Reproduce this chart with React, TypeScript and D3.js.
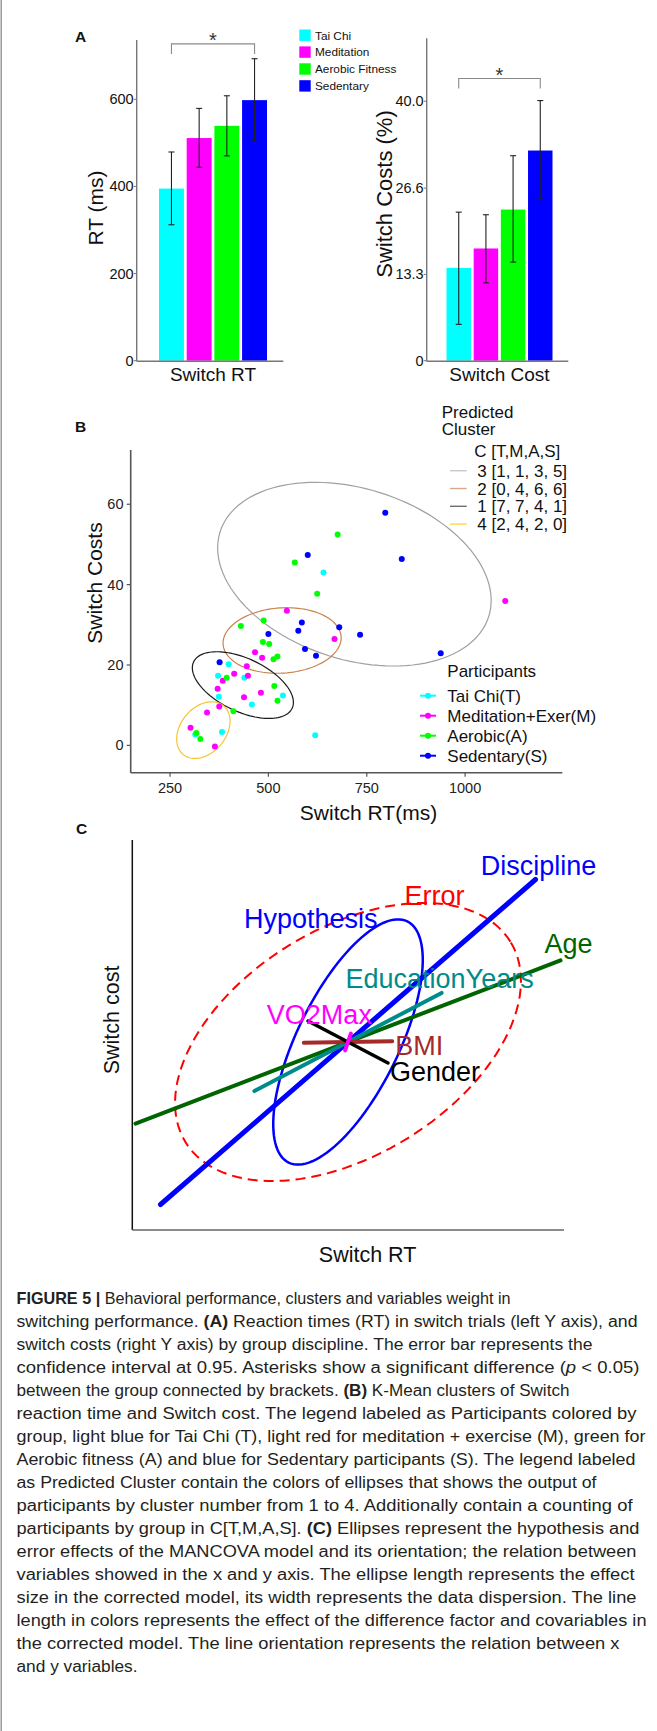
import * as d3 from "d3";

// ---------- panel A data ----------
const groups = ["Tai Chi", "Meditation", "Aerobic Fitness", "Sedentary"];
const groupColors = ["#00ffff", "#ff00ff", "#00ff00", "#0000ff"];
const rtMean = [395, 511, 539, 598];
const rtLow = [312, 444, 470, 504];
const rtHigh = [479, 579, 608, 693];
const rtTicks = [0, 200, 400, 600];
const costMean = [14.3, 17.3, 23.3, 32.4];
const costLow = [5.6, 12.0, 15.2, 24.9];
const costHigh = [22.9, 22.5, 31.6, 40.1];
const costTicks = [0, 13.3, 26.6, 40.0];
const costTickLabels = ["0", "13.3", "26.6", "40.0"];
const bracketRT = 727;
const bracketCost = 43.5;

// ---------- panel B data: [switch RT (ms), switch cost] ----------
const taiChiPts = [
  [399, 20.2], [372, 17.3], [439, 16.8], [374, 12.1], [537, 12.4],
  [458, 10.2], [314, 2.7], [382, 3.3], [619, 2.5], [640, 43.0],
];
const meditationPts = [
  [547, 33.5], [466, 23.2], [484, 21.8], [445, 19.7], [384, 16.1],
  [413, 17.8], [448, 17.3], [371, 14.1], [438, 12.0], [481, 13.1],
  [375, 9.7], [344, 8.2], [302, 4.4], [364, -0.3], [668, 26.5], [1102, 35.9],
];
const aerobicPts = [
  [567, 45.5], [488, 31.1], [430, 29.7], [486, 25.7], [502, 25.2],
  [513, 21.4], [523, 22.1], [394, 16.8], [515, 14.8], [523, 11.1],
  [411, 8.5], [317, 3.1], [327, 1.6], [676, 52.5], [624, 37.7],
];
const sedentaryPts = [
  [797, 57.9], [600, 47.4], [839, 46.4], [585, 30.6], [576, 28.5],
  [680, 29.4], [733, 27.5], [593, 24.0], [621, 22.3], [938, 22.9],
  [500, 27.7], [376, 20.7],
];
const participantLabels = ["Tai Chi(T)", "Meditation+Exer(M)", "Aerobic(A)", "Sedentary(S)"];
const xTicksB = [250, 500, 750, 1000];
const yTicksB = [0, 20, 40, 60];

// cluster ellipses: centre and two semi-axis vectors, in data units
const clusterLabels = ["3 [1, 1, 3, 5]", "2 [0, 4, 6, 6]", "1 [7, 7, 4, 1]", "4 [2, 4, 2, 0]"];
const clusterCentres = [[718.6, 42.6], [534.8, 26.1], [435.1, 15.0], [334.7, 3.8]];
const clusterAxisU = [[341.5, -10.5], [150.0, 0.95], [125.2, -5.77], [51.4, 6.05]];
const clusterAxisV = [[64.8, 20.3], [-5.3, 8.1], [28.7, 5.97], [-44.3, 3.62]];
const clusterColors = ["#a0a0a0", "#c9834f", "#1a1a1a", "#f7c42f"];
const clusterKeyColors = ["#c8c8c8", "#d9a98a", "#6e6e6e", "#ffd54f"];

// ---------- panel C data (arbitrary effect units) ----------
const effectNames = ["Age", "Discipline", "EducationYears", "BMI", "Gender", "VO2Max"];
const effectEnds = [[212.5, 81.6], [187.5, 162.5], [93.6, 49.1], [44.2, 0.8], [40, -21], [2.9, 8.4]];
const effectColors = ["#006400", "#0000ff", "#008b8b", "#a52a2a", "#000000", "#ff00ff"];
const ellipseNames = ["Error", "Hypothesis"];
const ellipseAxes = [[190.9, 113.2], [134.4, 50.7]];
const ellipseAngles = [31.7, 63.8];
const ellipseColors = ["#ff0000", "#0000ff"];

// ---------- caption ----------
const captionLines = [
  "**FIGURE 5 |** Behavioral performance, clusters and variables weight in",
  "switching performance. **(A)** Reaction times (RT) in switch trials (left Y axis), and",
  "switch costs (right Y axis) by group discipline. The error bar represents the",
  "confidence interval at 0.95. Asterisks show a significant difference (_p_ < 0.05)",
  "between the group connected by brackets. **(B)** K-Mean clusters of Switch",
  "reaction time and Switch cost. The legend labeled as Participants colored by",
  "group, light blue for Tai Chi (T), light red for meditation + exercise (M), green for",
  "Aerobic fitness (A) and blue for Sedentary participants (S). The legend labeled",
  "as Predicted Cluster contain the colors of ellipses that shows the output of",
  "participants by cluster number from 1 to 4. Additionally contain a counting of",
  "participants by group in C[T,M,A,S]. **(C)** Ellipses represent the hypothesis and",
  "error effects of the MANCOVA model and its orientation; the relation between",
  "variables showed in the x and y axis. The ellipse length represents the effect",
  "size in the corrected model, its width represents the data dispersion. The line",
  "length in colors represents the effect of the difference factor and covariables in",
  "the corrected model. The line orientation represents the relation between x",
  "and y variables.",
];
// rendered width of each caption line (layout); the last line keeps its natural width
const captionWidths = [494, 621, 576, 623, 553, 620, 629, 619, 580, 616, 623, 620, 618, 620, 630, 603, 0];

const FONT = "'Liberation Sans', Arial, Helvetica, sans-serif";

function BarPanel({ xs, ys, mean, low, high, ticks, tickLabels, bracket, axisX, axisEnd, yTitle, yTitleX, yTitleY, yTitleSize, xTitle }: any) {
  const bw = xs.bandwidth();
  const y0 = ys(0);
  const first = xs(groups[0]) + bw / 2;
  const last = xs(groups[3]) + bw / 2;
  const by = ys(bracket);
  return (
    <g>
      {groups.map((g, i) => (
        <rect key={g} x={xs(g)} y={ys(mean[i])} width={bw} height={y0 - ys(mean[i])} fill={groupColors[i]} />
      ))}
      {groups.map((g, i) => {
        const cx = xs(g) + bw / 2;
        return (
          <g key={g} stroke="#222" strokeWidth={1.1}>
            <line x1={cx} x2={cx} y1={ys(low[i])} y2={ys(high[i])} />
            <line x1={cx - 3} x2={cx + 3} y1={ys(low[i])} y2={ys(low[i])} />
            <line x1={cx - 3} x2={cx + 3} y1={ys(high[i])} y2={ys(high[i])} />
          </g>
        );
      })}
      <path d={`M${first},${by + 10}V${by}H${last}V${by + 10}`} fill="none" stroke="#8a8a8a" strokeWidth={1.1} />
      <text x={(first + last) / 2} y={by + 3} textAnchor="middle" fontSize={20} fill="#333">*</text>
      <line x1={axisX} x2={axisX} y1={ys.range()[1]} y2={y0 + 0.5} stroke="#777" strokeWidth={1.4} />
      <line x1={axisX} x2={axisEnd} y1={y0 + 0.5} y2={y0 + 0.5} stroke="#777" strokeWidth={1.4} />
      {ticks.map((t: number, i: number) => (
        <g key={t}>
          <line x1={axisX - 3} x2={axisX} y1={ys(t)} y2={ys(t)} stroke="#777" strokeWidth={1} />
          <text x={axisX - 3} y={ys(t) + 5} textAnchor="end" fontSize={14.5} fill="#111">{tickLabels[i]}</text>
        </g>
      ))}
      <text transform={`translate(${yTitleX},${yTitleY}) rotate(-90)`} textAnchor="middle" fontSize={yTitleSize} fill="#111">{yTitle}</text>
      <text x={(first + last) / 2} y={381} textAnchor="middle" fontSize={19} fill="#111">{xTitle}</text>
    </g>
  );
}

function ellipsePath(cx: number, cy: number, u: number[], v: number[], xs: any, ys: any) {
  const ts = d3.range(0, 121).map((i) => (i / 120) * Math.PI * 2);
  const line = d3.line<number>()
    .x((t) => xs(cx + u[0] * Math.cos(t) + v[0] * Math.sin(t)))
    .y((t) => ys(cy + u[1] * Math.cos(t) + v[1] * Math.sin(t)))
    .curve(d3.curveLinearClosed);
  return line(ts) || "";
}

function renderCaption(line: string) {
  const parts = line.split(/(\*\*[^*]+\*\*|_[^_]+_)/).filter((p) => p.length);
  return parts.map((p, i) => {
    if (p.startsWith("**")) return <tspan key={i} fontWeight="bold">{p.slice(2, -2)}</tspan>;
    if (p.startsWith("_")) return <tspan key={i} fontStyle="italic">{p.slice(1, -1)}</tspan>;
    return <tspan key={i}>{p}</tspan>;
  });
}

export default function App() {
  // panel A scales
  const xA1 = d3.scaleBand<string>().domain(groups).range([159, 267]).paddingInner(0.1);
  const yA1 = d3.scaleLinear().domain([0, 736]).range([360.7, 40]);
  const xA2 = d3.scaleBand<string>().domain(groups).range([446.5, 552.5]).paddingInner(0.1);
  const yA2 = d3.scaleLinear().domain([0, 49.7]).range([360.7, 38.3]);

  // panel B scales
  const xB = d3.scaleLinear().domain([150, 1247]).range([130.7, 562.3]);
  const yB = d3.scaleLinear().domain([-6.8, 73.5]).range([772.7, 450]);
  const allPts = [taiChiPts, meditationPts, aerobicPts, sedentaryPts];

  // panel C scales
  const xC = d3.scaleLinear().domain([-216, 216]).range([132, 564]);
  const yC = d3.scaleLinear().domain([-188, 202]).range([1230, 840]);
  const cEll = ellipseNames.map((n, i) => {
    const th = (ellipseAngles[i] * Math.PI) / 180;
    const [a, b] = ellipseAxes[i];
    const u = [a * Math.cos(th), a * Math.sin(th)];
    const v = [-b * Math.sin(th), b * Math.cos(th)];
    // topmost point for label placement
    const ts = d3.range(0, 360).map((k) => (k * Math.PI) / 180);
    const top = d3.greatest(ts, (t) => u[1] * Math.cos(t) + v[1] * Math.sin(t)) as number;
    return {
      d: ellipsePath(0, 0, u, v, xC, yC),
      top: [xC(u[0] * Math.cos(top) + v[0] * Math.sin(top)), yC(u[1] * Math.cos(top) + v[1] * Math.sin(top))],
    };
  });
  const effectWidths: Record<string, number> = { Age: 4, Discipline: 5, EducationYears: 4, BMI: 4, Gender: 3.5, VO2Max: 4 };
  // label anchors relative to the positive end of each line
  const effectLabel: Record<string, [number, number, string]> = {
    Age: [8, -7, "middle"],
    Discipline: [3, -5, "middle"],
    EducationYears: [-2, -5, "middle"],
    BMI: [3, 14, "start"],
    Gender: [2, 18, "start"],
    VO2Max: [21, -10, "end"],
  };

  return (
    <svg width={657} height={1731} style={{ position: "absolute", left: 0, top: 0, display: "block" }} fontFamily={FONT}>
      <rect width={657} height={1731} fill="#fff" />
      <line x1={1.2} x2={1.2} y1={0} y2={1731} stroke="#8a8a8a" strokeWidth={1.3} />

      {/* ---------- Panel A ---------- */}
      <text x={75} y={42} fontSize={15.5} fontWeight="bold" fill="#111">A</text>
      <BarPanel xs={xA1} ys={yA1} mean={rtMean} low={rtLow} high={rtHigh} ticks={rtTicks}
        tickLabels={rtTicks.map(String)} bracket={bracketRT} axisX={136.7} axisEnd={283.3}
        yTitle="RT (ms)" yTitleX={103} yTitleY={208} yTitleSize={21} xTitle="Switch RT" />
      <BarPanel xs={xA2} ys={yA2} mean={costMean} low={costLow} high={costHigh} ticks={costTicks}
        tickLabels={costTickLabels} bracket={bracketCost} axisX={426.7} axisEnd={568.3}
        yTitle="Switch Costs (%)" yTitleX={391.5} yTitleY={194} yTitleSize={22} xTitle="Switch Cost" />
      {groups.map((g, i) => (
        <g key={g}>
          <rect x={299.3} y={29.5 + i * 16.9} width={11.4} height={11.4} fill={groupColors[i]} />
          <text x={315} y={39.5 + i * 16.9} fontSize={11.8} fill="#111">{g}</text>
        </g>
      ))}

      {/* ---------- Panel B ---------- */}
      <text x={75} y={432} fontSize={15.5} fontWeight="bold" fill="#111">B</text>
      {clusterLabels.map((c, i) => (
        <path key={c} d={ellipsePath(clusterCentres[i][0], clusterCentres[i][1], clusterAxisU[i], clusterAxisV[i], xB, yB)}
          fill="none" stroke={clusterColors[i]} strokeWidth={1.2} />
      ))}
      {allPts.map((pts, gi) => (
        <g key={gi} fill={groupColors[gi]}>
          {pts.map((p, j) => (
            <circle key={j} cx={xB(p[0])} cy={yB(p[1])} r={3} />
          ))}
        </g>
      ))}
      <line x1={130.7} x2={130.7} y1={450} y2={772.7} stroke="#555" strokeWidth={1.6} />
      <line x1={130.7} x2={562.3} y1={772.7} y2={772.7} stroke="#555" strokeWidth={1.6} />
      {yTicksB.map((t) => (
        <g key={t}>
          <line x1={126.7} x2={130.7} y1={yB(t)} y2={yB(t)} stroke="#555" strokeWidth={1.2} />
          <text x={123.5} y={yB(t) + 5} textAnchor="end" fontSize={14.5} fill="#222">{t}</text>
        </g>
      ))}
      {xTicksB.map((t) => (
        <g key={t}>
          <line x1={xB(t)} x2={xB(t)} y1={772.7} y2={776.7} stroke="#555" strokeWidth={1.2} />
          <text x={xB(t)} y={793} textAnchor="middle" fontSize={14.5} fill="#222">{t}</text>
        </g>
      ))}
      <text transform="translate(101.5,583) rotate(-90)" textAnchor="middle" fontSize={21} fill="#111">Switch Costs</text>
      <text x={368.5} y={820} textAnchor="middle" fontSize={21} fill="#111">Switch RT(ms)</text>

      <g fontSize={17} fill="#111">
        <text x={441.7} y={418.3}>Predicted</text>
        <text x={441.7} y={435}>Cluster</text>
        <text x={474.3} y={456.7}>C [T,M,A,S]</text>
        {clusterLabels.map((c, i) => (
          <g key={c}>
            <line x1={450} x2={466.7} y1={470.7 + i * 17.8} y2={470.7 + i * 17.8} stroke={clusterKeyColors[i]} strokeWidth={1.4} />
            <text x={477.3} y={476.7 + i * 17.8}>{c}</text>
          </g>
        ))}
        <text x={447.3} y={677.3}>Participants</text>
        {participantLabels.map((p, i) => (
          <g key={p}>
            <line x1={420} x2={436} y1={695.7 + i * 20} y2={695.7 + i * 20} stroke={groupColors[i]} strokeWidth={2} />
            <circle cx={428} cy={695.7 + i * 20} r={3} fill={groupColors[i]} />
            <text x={447.3} y={701.7 + i * 20}>{p}</text>
          </g>
        ))}
      </g>

      {/* ---------- Panel C ---------- */}
      <text x={76} y={834} fontSize={15.5} fontWeight="bold" fill="#111">C</text>
      <path d={cEll[0].d} fill="none" stroke={ellipseColors[0]} strokeWidth={2} strokeDasharray="10 6" />
      <path d={cEll[1].d} fill="none" stroke={ellipseColors[1]} strokeWidth={2.5} />
      {effectNames.map((n, i) => {
        const [ex, ey] = effectEnds[i];
        return (
          <line key={n} x1={xC(-ex)} y1={yC(-ey)} x2={xC(ex)} y2={yC(ey)} stroke={effectColors[i]}
            strokeWidth={effectWidths[n]} strokeLinecap="round" />
        );
      })}
      <g fontSize={27}>
        {effectNames.map((n, i) => {
          const [dx, dy, anchor] = effectLabel[n];
          return (
            <text key={n} x={xC(effectEnds[i][0]) + dx} y={yC(effectEnds[i][1]) + dy} textAnchor={anchor} fill={effectColors[i]}>{n}</text>
          );
        })}
        <text x={cEll[0].top[0] + 11} y={cEll[0].top[1] + 2} textAnchor="middle" fill={ellipseColors[0]}>{ellipseNames[0]}</text>
        <text x={cEll[1].top[0] - 20} y={cEll[1].top[1] + 9} textAnchor="end" fill={ellipseColors[1]}>{ellipseNames[1]}</text>
      </g>
      <line x1={132.3} x2={132.3} y1={840} y2={1230} stroke="#111" strokeWidth={1.5} />
      <line x1={132.3} x2={564} y1={1230} y2={1230} stroke="#666" strokeWidth={1.5} />
      <text transform="translate(119,1020) rotate(-90)" textAnchor="middle" fontSize={21.5} fill="#111">Switch cost</text>
      <text x={367.6} y={1262} textAnchor="middle" fontSize={21.5} fill="#111">Switch RT</text>

      {/* ---------- Caption ---------- */}
      <g fontSize={17.3} fill="#231f20">
        {captionLines.map((l, i) => (
          <text key={i} x={16.5} y={1304 + i * 23}
            textLength={captionWidths[i] || undefined}
            lengthAdjust={captionWidths[i] ? "spacingAndGlyphs" : undefined}>{renderCaption(l)}</text>
        ))}
      </g>
    </svg>
  );
}
